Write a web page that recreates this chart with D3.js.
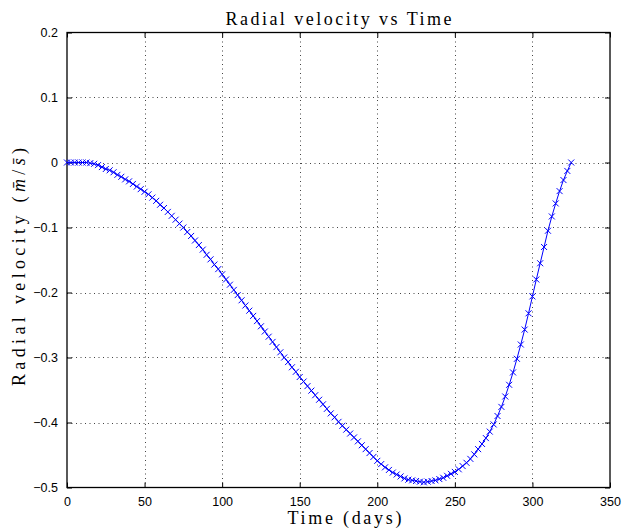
<!DOCTYPE html>
<html>
<head>
<meta charset="utf-8">
<script src="https://cdn.jsdelivr.net/npm/d3@7"></script>
<style>
html,body{margin:0;padding:0;background:#fff;}
svg{display:block;}
</style>
</head>
<body>
<svg id="chart" width="622" height="531"></svg>
<script>
const times = [0,2.5,5,7.5,10,12.5,15,17.5,20,22.5,
25,27.5,30,32.5,35,37.5,40,42.5,45,47.5,
50,52.5,55,57.5,60,62.5,65,67.5,70,72.5,
75,77.5,80,82.5,85,87.5,90,92.5,95,97.5,
100,102.5,105,107.5,110,112.5,115,117.5,120,122.5,
125,127.5,130,132.5,135,137.5,140,142.5,145,147.5,
150,152.5,155,157.5,160,162.5,165,167.5,170,172.5,
175,177.5,180,182.5,185,187.5,190,192.5,195,197.5,
200,202.5,205,207.5,210,212.5,215,217.5,220,222.5,
225,227.5,230,232.5,235,237.5,240,242.5,245,247.5,
250,252.5,255,257.5,260,262.5,265,267.5,270,272.5,
275,277.5,280,282.5,285,287.5,290,292.5,295,297.5,
300,302.5,305,307.5,310,312.5,315,317.5,320,322.5,
325];
const velocity = [0,0,0,0,0,0,-0.001,-0.002,-0.004,-0.007,
-0.010,-0.012,-0.015,-0.019,-0.022,-0.026,-0.029,-0.033,-0.037,-0.041,
-0.045,-0.049,-0.054,-0.059,-0.065,-0.070,-0.076,-0.082,-0.088,-0.094,
-0.100,-0.107,-0.113,-0.120,-0.127,-0.134,-0.142,-0.149,-0.157,-0.164,
-0.172,-0.180,-0.188,-0.196,-0.204,-0.212,-0.220,-0.228,-0.236,-0.244,
-0.252,-0.260,-0.268,-0.276,-0.284,-0.292,-0.300,-0.307,-0.315,-0.322,
-0.330,-0.337,-0.344,-0.351,-0.358,-0.365,-0.372,-0.379,-0.386,-0.392,
-0.399,-0.405,-0.411,-0.417,-0.423,-0.429,-0.435,-0.441,-0.447,-0.453,
-0.459,-0.464,-0.469,-0.473,-0.477,-0.480,-0.483,-0.486,-0.488,-0.489,
-0.490,-0.491,-0.492,-0.491,-0.490,-0.489,-0.487,-0.485,-0.482,-0.479,
-0.476,-0.472,-0.467,-0.462,-0.456,-0.449,-0.441,-0.433,-0.424,-0.414,
-0.403,-0.390,-0.376,-0.360,-0.342,-0.323,-0.302,-0.280,-0.257,-0.232,
-0.206,-0.180,-0.155,-0.130,-0.105,-0.083,-0.063,-0.044,-0.027,-0.013,
0];
const xTicks = [0,50,100,150,200,250,300,350];
const yTicks = [-0.5,-0.4,-0.3,-0.2,-0.1,0,0.1,0.2];
const yTickLabels = ["\u22120.5","\u22120.4","\u22120.3","\u22120.2","\u22120.1","0","0.1","0.2"];
const titleText = "Radial velocity vs Time";
const xLabelText = "Time (days)";

const svg = d3.select("#chart");
const L = 67, R = 610, T = 32.5, B = 487.5;
const x = d3.scaleLinear().domain([0,350]).range([L,R]);
const y = d3.scaleLinear().domain([-0.5,0.2]).range([B,T]);

// grid
const grid = svg.append("g").attr("stroke","#444").attr("stroke-width",1).attr("stroke-dasharray","1,3.5");
grid.selectAll(".gx").data(xTicks.slice(1,-1)).join("line")
  .attr("x1",d=>Math.round(x(d))+0.5).attr("x2",d=>Math.round(x(d))+0.5)
  .attr("y1",T).attr("y2",B);
grid.selectAll(".gy").data(yTicks.slice(1,-1)).join("line")
  .attr("y1",d=>Math.round(y(d))+0.5).attr("y2",d=>Math.round(y(d))+0.5)
  .attr("x1",L).attr("x2",R);

const font = "'Liberation Sans', Arial, sans-serif";
// axes
const axB = d3.axisBottom(x).tickValues(xTicks).tickSizeInner(-5).tickSizeOuter(0).tickPadding(10).tickFormat(d3.format("d"));
const axT = d3.axisTop(x).tickValues(xTicks).tickSizeInner(-5).tickSizeOuter(0).tickFormat("");
const axL = d3.axisLeft(y).tickValues(yTicks).tickSizeInner(-5).tickSizeOuter(0).tickPadding(9).tickFormat((d,i)=>yTickLabels[i]);
const axR = d3.axisRight(y).tickValues(yTicks).tickSizeInner(-5).tickSizeOuter(0).tickFormat("");

function style(g){
  g.select(".domain").remove();
  g.selectAll("line").attr("stroke","#000");
  g.selectAll("text").attr("fill","#000").style("font-family",font).style("font-size","12.5px");
}
svg.append("g").attr("transform",`translate(0,${B})`).call(axB).call(style);
svg.append("g").attr("transform",`translate(0,${T})`).call(axT).call(style);
svg.append("g").attr("transform",`translate(${L},0)`).call(axL).call(style);
svg.append("g").attr("transform",`translate(${R},0)`).call(axR).call(style);

svg.append("rect").attr("x",L).attr("y",T).attr("width",R-L).attr("height",B-T)
  .attr("fill","none").attr("stroke","#000").attr("stroke-width",1.3);

// data
const pts = times.map((t,i)=>[t,velocity[i]]);
const line = d3.line().x(d=>x(d[0])).y(d=>y(d[1]));
svg.append("path").datum(pts).attr("d",line).attr("fill","none").attr("stroke","#0000ff").attr("stroke-width",1);
const s = 3;
svg.append("g").selectAll("path").data(pts).join("path")
  .attr("d",d=>{const cx=x(d[0]), cy=y(d[1]);return `M${cx-s},${cy-s}L${cx+s},${cy+s}M${cx-s},${cy+s}L${cx+s},${cy-s}`;})
  .attr("stroke","#0000ff").attr("stroke-width",1).attr("fill","none");

// labels
const serif = "'Liberation Serif','DejaVu Serif',serif";
svg.append("text").attr("x",(L+R)/2).attr("y",25).attr("text-anchor","middle")
  .style("font-family",serif).style("font-size","18px").attr("fill","#000")
  .attr("textLength",226).attr("lengthAdjust","spacing").text(titleText);
svg.append("text").attr("x",(L+R)/2+6).attr("y",524).attr("text-anchor","middle")
  .style("font-family",serif).style("font-size","18px").attr("fill","#000")
  .attr("textLength",114).attr("lengthAdjust","spacing").text(xLabelText);
const yl = svg.append("text").attr("transform","translate(24.5,267) rotate(-90)").attr("text-anchor","middle")
  .style("font-family",serif).style("font-size","18px").attr("fill","#000")
  .attr("textLength",238).attr("lengthAdjust","spacing");
yl.append("tspan").text("Radial velocity (");
yl.append("tspan").style("font-style","italic").text("m\u0304");
yl.append("tspan").text("/");
yl.append("tspan").style("font-style","italic").text("s\u0304");
yl.append("tspan").text(")");
</script>
</body>
</html>
